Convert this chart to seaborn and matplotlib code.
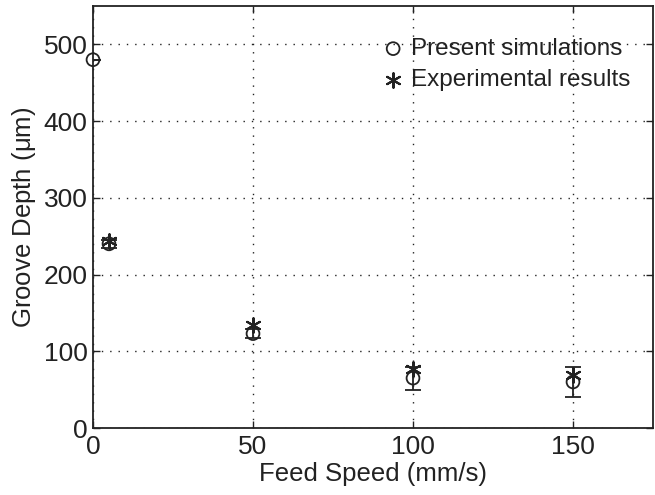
import matplotlib
matplotlib.use("Agg")
import matplotlib.pyplot as plt
import seaborn as sns
import pandas as pd

sim_speed = [0, 5, 50, 100, 150]
sim_depth = [480, 240, 123, 65, 60]
sim_err = [0, 5, 6, 15, 20]
exp_speed = [5, 50, 100, 150]
exp_depth = [244, 134, 77, 69]

xticks = [0, 50, 100, 150]
yticks = [0, 100, 200, 300, 400, 500]

sns.set_theme(style="white")
plt.rcParams['font.family'] = ['Liberation Sans', 'DejaVu Sans']
plt.rcParams['mathtext.fontset'] = 'custom'
plt.rcParams['mathtext.rm'] = 'Liberation Sans'
plt.rcParams['mathtext.it'] = 'Liberation Sans'

fig = plt.figure(figsize=(6.55, 4.95), dpi=100)
ax = fig.add_axes([93/655, 1-428/495, 560/655, 422/495])

sim_df = pd.DataFrame({"speed": sim_speed, "depth": sim_depth})
exp_df = pd.DataFrame({"speed": exp_speed, "depth": exp_depth})

ax.errorbar(sim_speed, sim_depth, yerr=sim_err, fmt='none', ecolor='#222222',
            elinewidth=1.3, capsize=6, capthick=1.3, zorder=3)
sns.scatterplot(data=sim_df, x="speed", y="depth", ax=ax, marker='o', s=85,
                facecolor='none', edgecolor='#222222', linewidth=1.3,
                label='Present simulations', zorder=4, clip_on=False)
sns.scatterplot(data=exp_df, x="speed", y="depth", ax=ax, marker=(6, 2, 0), s=110,
                color='#222222', linewidth=1.5, label='Experimental results', zorder=5)

ax.set_xlim(0, 175)
ax.set_ylim(0, 550)
ax.set_xticks(xticks)
ax.set_yticks(yticks)
ax.set_xlabel('Feed Speed (mm/s)', fontsize=18.5, color='#222222', labelpad=2)
ax.set_ylabel('Groove Depth ($\\mu$m)', fontsize=18.5, color='#222222', labelpad=4)
ax.tick_params(direction='in', length=5, width=1, colors='#222222', labelsize=19,
               top=True, right=True, bottom=True, left=True)
ax.tick_params(axis='x', pad=5)
ax.tick_params(axis='y', pad=4)
ax.grid(True, linestyle=(0, (1, 5)), color='#222222', linewidth=1)
for sp in ax.spines.values():
    sp.set_color('#222222')
    sp.set_linewidth(1.3)

leg = ax.legend(loc='upper left', bbox_to_anchor=((381-93)/560, (428-38)/422),
                frameon=False, fontsize=17.5, handletextpad=0.25, handlelength=1.0,
                borderpad=0, borderaxespad=0, labelspacing=0.38)
for t in leg.get_texts():
    t.set_color('#222222')

fig.savefig('out.png', dpi=100)
